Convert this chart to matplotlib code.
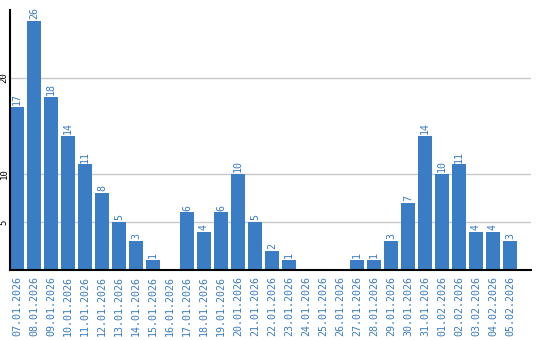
import matplotlib
matplotlib.use("Agg")
import matplotlib.pyplot as plt

dates = ["07.01.2026", "08.01.2026", "09.01.2026", "10.01.2026", "11.01.2026",
         "12.01.2026", "13.01.2026", "14.01.2026", "15.01.2026", "16.01.2026",
         "17.01.2026", "18.01.2026", "19.01.2026", "20.01.2026", "21.01.2026",
         "22.01.2026", "23.01.2026", "24.01.2026", "25.01.2026", "26.01.2026",
         "27.01.2026", "28.01.2026", "29.01.2026", "30.01.2026", "31.01.2026",
         "01.02.2026", "02.02.2026", "03.02.2026", "04.02.2026", "05.02.2026"]
counts = [17, 26, 18, 14, 11, 8, 5, 3, 1, 0,
          6, 4, 6, 10, 5, 2, 1, 0, 0, 0,
          1, 1, 3, 7, 14, 10, 11, 4, 4, 3]
y_ticks = [5, 10, 20]

bar_color = "#3b7dc4"
text_color = "#3a7cc0"
mono = "DejaVu Sans Mono"

fig = plt.figure(figsize=(5.4, 3.4), dpi=100)
ax = fig.add_axes([10 / 540, 1 - 270 / 340, 521 / 540, 260 / 340])

x = list(range(len(dates)))
ax.bar(x, counts, width=0.82, color=bar_color, zorder=2)

# value labels on top of the bars (skip empty days)
for xi, v in zip(x, counts):
    if v > 0:
        ax.text(xi, v + 0.2, str(v), rotation=90, ha="center", va="bottom",
                color=text_color, fontsize=7.2, family=mono)

ax.set_xlim(-0.41, 30.24)
ax.set_ylim(0, 27.1)

ax.set_xticks(x)
ax.set_xticklabels(dates, rotation=90, color=text_color, fontsize=7.2, family=mono)
ax.set_yticks(y_ticks)
ax.set_yticklabels([str(t) for t in y_ticks], rotation=90, va="center",
                   fontsize=6.5, family=mono)
ax.tick_params(axis="both", length=0)
ax.tick_params(axis="x", pad=4)
ax.tick_params(axis="y", pad=1)

ax.grid(axis="y", color="#c8c8c8", linewidth=1, zorder=0)
for side in ["top", "right"]:
    ax.spines[side].set_visible(False)
for side in ["left", "bottom"]:
    ax.spines[side].set_color("black")
    ax.spines[side].set_linewidth(1.5)
    ax.spines[side].set_zorder(3)

fig.savefig("out.png", dpi=100)
